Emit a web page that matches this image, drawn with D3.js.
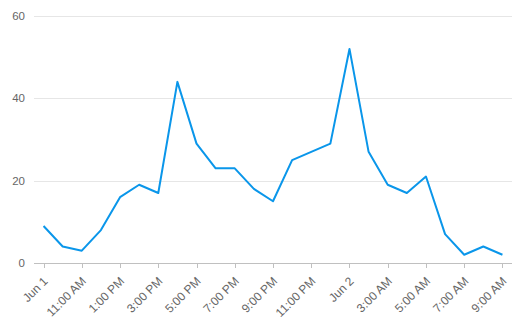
<!DOCTYPE html>
<html>
<head>
<meta charset="utf-8">
<script src="https://cdn.jsdelivr.net/npm/d3@7"></script>
<style>
  body { margin: 0; background: #fff; }
  text { font-family: "Liberation Sans", Arial, sans-serif; font-size: 12px; fill: #666; }
  .ylab { font-size: 11.5px; }
</style>
</head>
<body>
<svg id="chart" width="521" height="331"></svg>
<script>
// hourly values, Jun 1 first point through 9:00 AM next day
var values = [9, 4, 3, 8, 16, 19, 17, 44, 29, 23, 23, 18, 15, 25, 27, 29, 52, 27, 19, 17, 21, 7, 2, 4, 2];
var tickLabels = ["Jun 1", "11:00 AM", "1:00 PM", "3:00 PM", "5:00 PM", "7:00 PM", "9:00 PM",
                  "11:00 PM", "Jun 2", "3:00 AM", "5:00 AM", "7:00 AM", "9:00 AM"];
var yTicks = [0, 20, 40, 60];

var svg = d3.select("#chart");
var plotLeft = 34, plotRight = 512, plotTop = 16, plotBottom = 263;

var x = d3.scaleLinear().domain([-0.5, values.length - 0.5]).range([plotLeft, plotRight]);
var y = d3.scaleLinear().domain([0, 60]).range([plotBottom, plotTop]);

// grid lines
svg.append("g")
    .selectAll("line")
    .data(yTicks.filter(d => d > 0))
    .enter()
    .append("line")
    .attr("x1", plotLeft).attr("x2", plotRight)
    .attr("y1", d => Math.round(y(d)) + 0.5).attr("y2", d => Math.round(y(d)) + 0.5)
    .attr("stroke", "#e6e6e6");

// y labels
svg.append("g")
    .selectAll("text")
    .data(yTicks)
    .enter()
    .append("text")
    .attr("class", "ylab")
    .attr("x", 25)
    .attr("y", d => y(d))
    .attr("dy", "0.35em")
    .attr("text-anchor", "end")
    .text(d => d);

// x axis line + ticks
svg.append("line")
    .attr("x1", plotLeft).attr("x2", plotRight)
    .attr("y1", plotBottom + 0.5).attr("y2", plotBottom + 0.5)
    .attr("stroke", "#c0c0c0");

var tickIdx = tickLabels.map((d, i) => i * 2);

svg.append("g")
    .selectAll("line")
    .data(tickIdx)
    .enter()
    .append("line")
    .attr("x1", d => Math.round(x(d)) + 0.5).attr("x2", d => Math.round(x(d)) + 0.5)
    .attr("y1", plotBottom).attr("y2", plotBottom + 5)
    .attr("stroke", "#c0c0c0");

svg.append("g")
    .selectAll("text")
    .data(tickIdx)
    .enter()
    .append("text")
    .attr("text-anchor", "end")
    .attr("transform", d => "translate(" + (x(d) + 5) + "," + (plotBottom + 19) + ") rotate(-45)")
    .text((d, i) => tickLabels[i]);

// the line
var line = d3.line()
    .x((d, i) => x(i))
    .y(d => y(d));

svg.append("path")
    .datum(values)
    .attr("d", line)
    .attr("fill", "none")
    .attr("stroke", "#0a96ea")
    .attr("stroke-width", 2)
    .attr("stroke-linejoin", "round");
</script>
</body>
</html>
